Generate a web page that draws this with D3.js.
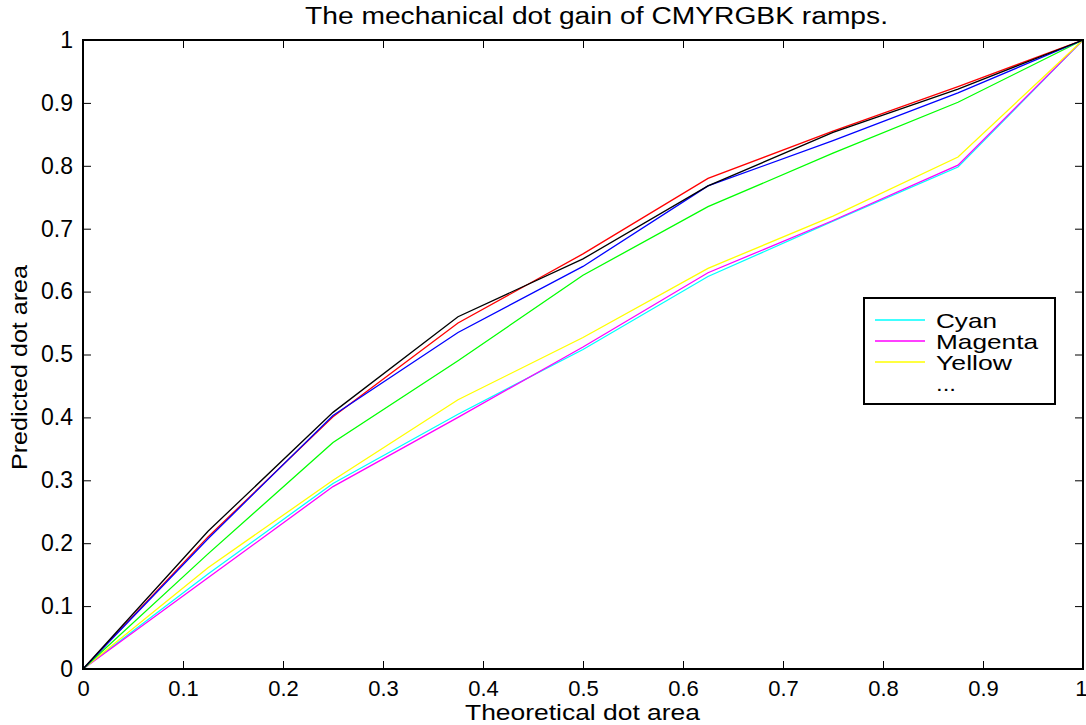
<!DOCTYPE html>
<html><head><meta charset="utf-8">
<script src="https://cdn.jsdelivr.net/npm/d3@7"></script>
<style>body{margin:0;background:#fff}svg{display:block}text{font-family:"Liberation Sans",Arial,sans-serif}</style>
</head><body><svg id="c" width="1086" height="725"></svg>
<script>
const xValues = [0, 0.125, 0.25, 0.375, 0.5, 0.625, 0.75, 0.875, 1];
const cyan    = [0, 0.151, 0.295, 0.405, 0.508, 0.624, 0.712, 0.798, 1];
const magenta = [0, 0.145, 0.290, 0.400, 0.512, 0.630, 0.713, 0.801, 1];
const yellow  = [0, 0.161, 0.300, 0.428, 0.527, 0.637, 0.720, 0.814, 1];
const red     = [0, 0.210, 0.401, 0.550, 0.660, 0.780, 0.855, 0.926, 1];
const green   = [0, 0.183, 0.360, 0.490, 0.626, 0.735, 0.820, 0.901, 1];
const blue    = [0, 0.207, 0.403, 0.535, 0.640, 0.768, 0.840, 0.916, 1];
const black   = [0, 0.219, 0.408, 0.560, 0.652, 0.768, 0.853, 0.922, 1];
const seriesNames = ["Cyan", "Magenta", "Yellow", "Red", "Green", "Blue", "Black"];
const seriesColors = ["#00ffff", "#ff00ff", "#ffff00", "#ff0000", "#00ff00", "#0000ff", "#000000"];
const legendLabels = ["Cyan", "Magenta", "Yellow", "..."];
const tickValues = [0, 0.1, 0.2, 0.3, 0.4, 0.5, 0.6, 0.7, 0.8, 0.9, 1];
const tickLabels = ["0", "0.1", "0.2", "0.3", "0.4", "0.5", "0.6", "0.7", "0.8", "0.9", "1"];
const titleText = "The mechanical dot gain of CMYRGBK ramps.";
const xLabel = "Theoretical dot area";
const yLabel = "Predicted dot area";

const series = [cyan, magenta, yellow, red, green, blue, black];
const svg = d3.select("#c");
const L = 83, R = 1083, T = 40, B = 669;
const x = d3.scaleLinear().domain([0, 1]).range([L, R]);
const y = d3.scaleLinear().domain([0, 1]).range([B, T]);
const fmt = (d) => tickLabels[tickValues.indexOf(d)] ?? d3.format("")(d);

const ax = (g, axis, fs) => { g.call(axis); g.select(".domain").remove(); g.selectAll(".tick line").attr("stroke", "#000").attr("stroke-width", 1); g.selectAll("text").attr("font-size", fs).attr("fill", "#000").attr("font-family", '"Liberation Sans",Arial,sans-serif'); };
svg.append("g").attr("transform", `translate(0,${B})`).call(g => {
  ax(g, d3.axisBottom(x).tickValues(tickValues).tickFormat(fmt).tickSizeInner(-8).tickPadding(11), 22);
  g.selectAll(".tick").filter(d => d === 1).select("text").attr("text-anchor", "end").attr("dx", 4);
});
svg.append("g").attr("transform", `translate(0,${T})`).call(g => { ax(g, d3.axisTop(x).tickValues(tickValues).tickFormat("").tickSizeInner(-8), 22); });
svg.append("g").attr("transform", `translate(${L},0)`).call(g => ax(g, d3.axisLeft(y).tickValues(tickValues).tickFormat(fmt).tickSizeInner(-8).tickPadding(10), 23));
svg.append("g").attr("transform", `translate(${R},0)`).call(g => { ax(g, d3.axisRight(y).tickValues(tickValues).tickFormat("").tickSizeInner(-8), 22); });

const line = d3.line().x((d, i) => x(xValues[i])).y(d => y(d));
svg.append("g").selectAll("path").data(series).join("path")
  .attr("d", line).attr("fill", "none").attr("stroke", (d, i) => seriesColors[i]).attr("stroke-width", 1.3);

svg.append("rect").attr("x", L).attr("y", T).attr("width", R - L).attr("height", B - T)
  .attr("fill", "none").attr("stroke", "#000").attr("stroke-width", 2);

svg.append("text").attr("x", 305).attr("y", 24).attr("font-size", 23).attr("textLength", 583).attr("lengthAdjust", "spacingAndGlyphs").text(titleText);
svg.append("text").attr("x", 465).attr("y", 720).attr("font-size", 22).attr("textLength", 235).attr("lengthAdjust", "spacingAndGlyphs").text(xLabel);
svg.append("text").attr("transform", "translate(27,470) rotate(-90)").attr("font-size", 22).attr("textLength", 205).attr("lengthAdjust", "spacingAndGlyphs").text(yLabel);

// legend
const legendWidths = [61, 102, 76, 20];
const lg = svg.append("g");
lg.append("rect").attr("x", 864).attr("y", 298).attr("width", 191).attr("height", 106).attr("fill", "#fff").attr("stroke", "#000").attr("stroke-width", 2);
legendLabels.forEach((lab, i) => {
  const yy = 320 + i * 21;
  if (i < 3) lg.append("line").attr("x1", 875).attr("x2", 925).attr("y1", yy).attr("y2", yy).attr("stroke", seriesColors[i]).attr("stroke-width", 1.3);
  lg.append("text").attr("x", 936).attr("y", yy + 8).attr("font-size", 21).attr("textLength", legendWidths[i]).attr("lengthAdjust", "spacingAndGlyphs").text(lab);
});
</script></body></html>
